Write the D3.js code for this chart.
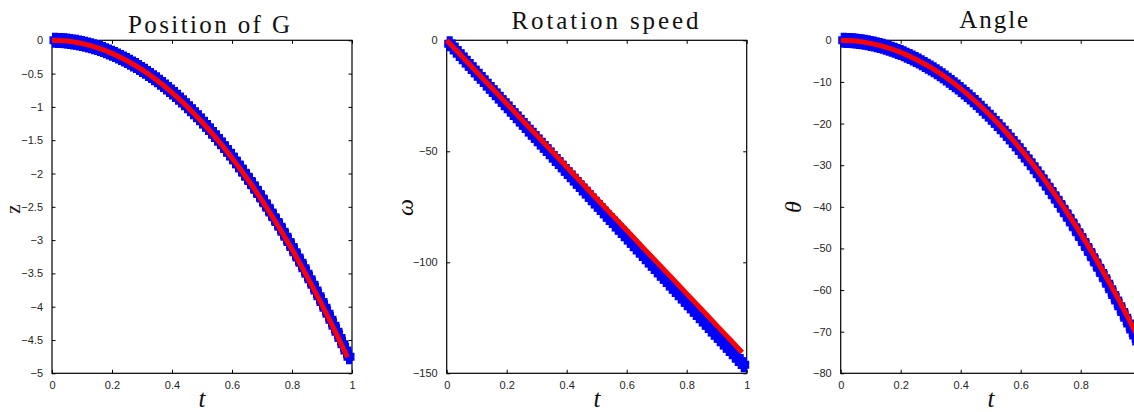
<!DOCTYPE html>
<html>
<head>
<meta charset="utf-8">
<script src="https://cdn.jsdelivr.net/npm/d3@7"></script>
<style>
  html, body { margin: 0; padding: 0; background: #fff; }
  svg { display: block; }
</style>
</head>
<body>
<svg id="chart" width="1134" height="412"></svg>
<script>
// Sample times of the measured points (0.01 to 0.99) and of the model curves
const tMeasured = d3.range(1, 100).map(i => i / 100);
const tModel = [0, 0.05, 0.1, 0.15, 0.2, 0.25, 0.3, 0.35, 0.4, 0.45, 0.5, 0.55, 0.6, 0.65, 0.7, 0.75, 0.8, 0.85, 0.9, 0.95, 0.985];

// Position of G (z)
const zMeasured = [0, -0.002, -0.004, -0.008, -0.012, -0.017, -0.024, -0.031, -0.039,
  -0.049, -0.059, -0.070, -0.082, -0.095, -0.109, -0.124, -0.140, -0.157, -0.175,
  -0.194, -0.214, -0.235, -0.257, -0.279, -0.303, -0.328, -0.354, -0.380, -0.408,
  -0.437, -0.466, -0.497, -0.528, -0.561, -0.594, -0.629, -0.664, -0.700, -0.738,
  -0.776, -0.815, -0.856, -0.897, -0.939, -0.982, -1.026, -1.071, -1.117, -1.164,
  -1.213, -1.261, -1.311, -1.362, -1.414, -1.467, -1.521, -1.576, -1.632, -1.688,
  -1.746, -1.805, -1.864, -1.925, -1.987, -2.049, -2.113, -2.177, -2.243, -2.309,
  -2.377, -2.445, -2.514, -2.585, -2.656, -2.728, -2.801, -2.876, -2.951, -3.027,
  -3.104, -3.182, -3.261, -3.341, -3.422, -3.504, -3.587, -3.671, -3.756, -3.842,
  -3.929, -4.016, -4.105, -4.195, -4.285, -4.377, -4.470, -4.563, -4.658, -4.753];
const zModel = [0, -0.012, -0.049, -0.110, -0.196, -0.307, -0.441, -0.601, -0.785, -0.993,
  -1.226, -1.484, -1.766, -2.072, -2.403, -2.759, -3.139, -3.544, -3.973, -4.427, -4.759];

// Rotation speed (omega)
const omegaMeasured = [-1.5, -3.0, -4.4, -5.9, -7.4, -8.9, -10.3, -11.8, -13.3,
  -14.8, -16.2, -17.7, -19.2, -20.7, -22.2, -23.6, -25.1, -26.6, -28.1,
  -29.5, -31.0, -32.5, -34.0, -35.4, -36.9, -38.4, -39.9, -41.4, -42.8,
  -44.3, -45.8, -47.3, -48.7, -50.2, -51.7, -53.2, -54.6, -56.1, -57.6,
  -59.1, -60.6, -62.0, -63.5, -65.0, -66.5, -67.9, -69.4, -70.9, -72.4,
  -73.9, -75.3, -76.8, -78.3, -79.8, -81.2, -82.7, -84.2, -85.7, -87.1,
  -88.6, -90.1, -91.6, -93.1, -94.5, -96.0, -97.5, -99.0, -100.4, -101.9,
  -103.4, -104.9, -106.3, -107.8, -109.3, -110.8, -112.3, -113.7, -115.2, -116.7,
  -118.2, -119.6, -121.1, -122.6, -124.1, -125.5, -127.0, -128.5, -130.0, -131.5,
  -132.9, -134.4, -135.9, -137.4, -138.8, -140.3, -141.8, -143.3, -144.7, -146.2];
const omegaModel = [0, -7.1, -14.3, -21.4, -28.5, -35.7, -42.8, -49.9, -57.1, -64.2,
  -71.4, -78.5, -85.6, -92.8, -99.9, -107.0, -114.2, -121.3, -128.4, -135.6, -140.6];

// Angle (theta)
const thetaMeasured = [-0.01, -0.03, -0.07, -0.12, -0.18, -0.27, -0.36, -0.47, -0.60,
  -0.74, -0.89, -1.06, -1.25, -1.45, -1.66, -1.89, -2.13, -2.39, -2.67,
  -2.95, -3.26, -3.57, -3.91, -4.25, -4.62, -4.99, -5.38, -5.79, -6.21,
  -6.65, -7.10, -7.56, -8.04, -8.54, -9.05, -9.57, -10.11, -10.66, -11.23,
  -11.82, -12.41, -13.03, -13.65, -14.30, -14.95, -15.63, -16.31, -17.02, -17.73,
  -18.46, -19.21, -19.97, -20.74, -21.53, -22.34, -23.16, -23.99, -24.84, -25.71,
  -26.59, -27.48, -28.39, -29.31, -30.25, -31.20, -32.17, -33.15, -34.15, -35.16,
  -36.19, -37.23, -38.28, -39.35, -40.44, -41.54, -42.66, -43.79, -44.93, -46.09,
  -47.26, -48.45, -49.66, -50.88, -52.11, -53.36, -54.62, -55.90, -57.19, -58.50,
  -59.82, -61.16, -62.51, -63.87, -65.25, -66.65, -68.06, -69.49, -70.93, -72.38];
const thetaModel = [0, -0.18, -0.73, -1.63, -2.90, -4.54, -6.53, -8.89, -11.62, -14.70,
  -18.15, -21.96, -26.14, -30.67, -35.57, -40.84, -46.46, -52.45, -58.81, -65.52, -70.44];

// Axis ticks
const tTicks = [0, 0.2, 0.4, 0.6, 0.8, 1];
const zTicks = [0, -0.5, -1, -1.5, -2, -2.5, -3, -3.5, -4, -4.5, -5];
const omegaTicks = [0, -50, -100, -150];
const thetaTicks = [0, -10, -20, -30, -40, -50, -60, -70, -80];

const panels = [
  { title: "Position of G", titleX: 209, titleY: 33, titleW: 162,
    ylabel: "z", ylabelItalic: false, ylabelX: 14, ylabelY: 209, ylabelSize: 21,
    xlabelX: 202, left: 52, yDomain: [-5, 0], yTicks: zTicks,
    measured: zMeasured, model: zModel },
  { title: "Rotation speed", titleX: 605, titleY: 28.5, titleW: 187,
    ylabel: "\u03C9", ylabelItalic: true, ylabelX: 406, ylabelY: 207.5, ylabelSize: 24,
    xlabelX: 597, left: 446.7, yDomain: [-150, 0], yTicks: omegaTicks,
    measured: omegaMeasured, model: omegaModel },
  { title: "Angle", titleX: 993.7, titleY: 27.5, titleW: 69,
    ylabel: "\u03B8", ylabelItalic: true, ylabelX: 794, ylabelY: 207, ylabelSize: 24,
    xlabelX: 991, left: 840.7, yDomain: [-80, 0], yTicks: thetaTicks,
    measured: thetaMeasured, model: thetaModel }
];

const svg = d3.select("#chart");
const W = 1134;
const plotTop = 40.3, plotBottom = 373.3, plotW = 300, tickLen = 3.5;
const fmt = d3.format("~g");

// Square marker drawn with a heavy edge: renders as a plus with square notches
const mw = 11, mh = 15, cx = 2.5, cy = 3.5;
const markerPath = [
  `M${-mw/2 + cx},${-mh/2}`, `H${mw/2 - cx}`, `V${-mh/2 + cy}`, `H${mw/2}`,
  `V${mh/2 - cy}`, `H${mw/2 - cx}`, `V${mh/2}`, `H${-mw/2 + cx}`,
  `V${mh/2 - cy}`, `H${-mw/2}`, `V${-mh/2 + cy}`, `H${-mw/2 + cx}`, "Z"
].join(" ");

panels.forEach(p => {
  const x = d3.scaleLinear().domain([0, 1]).range([p.left, p.left + plotW]);
  const y = d3.scaleLinear().domain(p.yDomain).range([plotBottom, plotTop]);
  const g = svg.append("g");

  // Ticks on all four sides, pointing inwards
  const axStyle = sel => {
    sel.select(".domain").remove();
    sel.selectAll(".tick line").attr("stroke", "#000").attr("stroke-width", 1);
    sel.selectAll(".tick text").attr("fill", "#262626")
      .style("font-family", "'Liberation Sans', Arial, sans-serif").style("font-size", "11px");
  };
  // labels whose tick lies past the right edge of the figure are not shown
  const xFmt = d => (x(d) + 3 < W ? fmt(d) : "");
  g.append("g").attr("transform", `translate(0,${plotBottom})`)
    .call(d3.axisBottom(x).tickValues(tTicks).tickFormat(xFmt).tickSizeInner(-tickLen).tickSizeOuter(0).tickPadding(8))
    .call(axStyle);
  g.append("g").attr("transform", `translate(0,${plotTop})`)
    .call(d3.axisTop(x).tickValues(tTicks).tickFormat("").tickSizeInner(-tickLen).tickSizeOuter(0))
    .call(axStyle);
  g.append("g").attr("transform", `translate(${p.left},0)`)
    .call(d3.axisLeft(y).tickValues(p.yTicks).tickFormat(fmt).tickSizeInner(-tickLen).tickSizeOuter(0).tickPadding(9))
    .call(axStyle);
  g.append("g").attr("transform", `translate(${p.left + plotW},0)`)
    .call(d3.axisRight(y).tickValues(p.yTicks).tickFormat("").tickSizeInner(-tickLen).tickSizeOuter(0))
    .call(axStyle);

  // Axes box
  g.append("rect")
    .attr("x", p.left).attr("y", plotTop)
    .attr("width", plotW).attr("height", plotBottom - plotTop)
    .attr("fill", "none").attr("stroke", "#000").attr("stroke-width", 1.2);

  // Title
  g.append("text")
    .attr("x", p.titleX).attr("y", p.titleY)
    .attr("text-anchor", "middle")
    .attr("textLength", p.titleW).attr("lengthAdjust", "spacing")
    .style("font-family", "'Liberation Serif', 'Times New Roman', serif")
    .style("font-size", "25px").attr("fill", "#111")
    .text(p.title);

  // x label
  g.append("text")
    .attr("x", p.xlabelX).attr("y", 407)
    .attr("text-anchor", "middle")
    .style("font-family", "'Liberation Serif', 'Times New Roman', serif")
    .style("font-style", "italic").style("font-size", "25px").attr("fill", "#111")
    .text("t");

  // y label
  g.append("text")
    .attr("transform", `translate(${p.ylabelX},${p.ylabelY}) rotate(-90)`)
    .attr("text-anchor", "middle").attr("dy", "0.3em")
    .style("font-family", "'Liberation Serif', 'Times New Roman', serif")
    .style("font-style", p.ylabelItalic ? "italic" : "normal")
    .style("font-size", p.ylabelSize + "px").attr("fill", "#111")
    .text(p.ylabel);

  // Measured points
  g.append("g").selectAll("path")
    .data(tMeasured.map((t, i) => [t, p.measured[i]]))
    .join("path")
    .attr("d", markerPath)
    .attr("transform", d => `translate(${x(d[0])},${y(d[1])})`)
    .attr("fill", "#0000ff");

  // Model curve
  g.append("path")
    .datum(tModel.map((t, i) => [t, p.model[i]]))
    .attr("d", d3.line().x(d => x(d[0])).y(d => y(d[1])).curve(d3.curveMonotoneX))
    .attr("fill", "none").attr("stroke", "#ff0000").attr("stroke-width", 5);
});
</script>
</body>
</html>
